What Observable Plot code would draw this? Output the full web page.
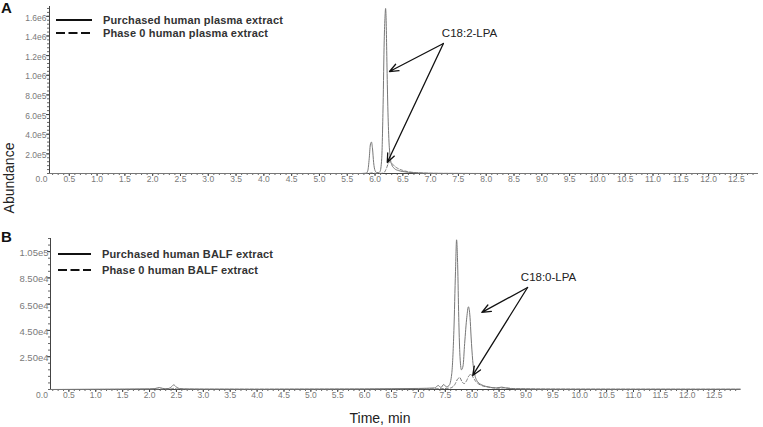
<!DOCTYPE html>
<html><head><meta charset="utf-8">
<script src="https://cdn.jsdelivr.net/npm/d3@7"></script>
<script src="https://cdn.jsdelivr.net/npm/@observablehq/plot@0.6"></script>
<style>
body{margin:0;background:#fff;font-family:"Liberation Sans",Arial,sans-serif;}
#wrap{position:relative;width:763px;height:427px;overflow:hidden;background:#fff;}
.abs{position:absolute;white-space:nowrap;}
.plot{position:absolute;left:0;}
.leg{position:absolute;font-size:11px;font-weight:bold;color:#333;display:flex;align-items:center;white-space:nowrap;letter-spacing:0.15px;}
.leg svg{margin-right:11px;}
</style></head><body><div id="wrap"></div>
<script>
// ---------- DATA ----------
// x tick labels (retention time, min)
const xTicks = [0,0.5,1,1.5,2,2.5,3,3.5,4,4.5,5,5.5,6,6.5,7,7.5,8,8.5,9,9.5,10,10.5,11,11.5,12,12.5];
const xTickLabels = ["0.0","0.5","1.0","1.5","2.0","2.5","3.0","3.5","4.0","4.5","5.0","5.5","6.0","6.5","7.0","7.5","8.0","8.5","9.0","9.5","10.0","10.5","11.0","11.5","12.0","12.5"];
// panel A y ticks
const yTicksA = [200000,400000,600000,800000,1000000,1200000,1400000,1600000];
const yTickLabelsA = ["2.0e5","4.0e5","6.0e5","8.0e5","1.0e6","1.2e6","1.4e6","1.6e6"];
// panel B y ticks
const yTicksB = [25000,45000,65000,85000,105000];
const yTickLabelsB = ["2.50e4","4.50e4","6.50e4","8.50e4","1.05e5"];

// Panel A: purchased human plasma extract (solid)
const tA_purch = [0.144,3.0,5.75,5.84,5.87,5.895,5.915,5.935,5.955,5.975,6.0,6.03,6.06,6.09,6.12,6.145,6.165,6.18,6.19,6.2,6.21,6.225,6.245,6.27,6.3,6.35,6.42,6.5,6.6,6.75,6.95,7.2,8.0,12.88];
const vA_purch = [0,0,0,3000,30000,150000,290000,320000,250000,110000,30000,10000,8000,20000,150000,700000,1350000,1600000,1680000,1560000,1250000,800000,400000,180000,90000,50000,30000,20000,12000,6000,2500,1000,0,0];
// Panel A: phase 0 human plasma extract (dashed)
const tA_phase0 = [0.144,5.8,5.9,5.94,5.98,6.1,6.17,6.21,6.24,6.27,6.3,6.34,6.4,6.48,6.58,6.7,6.85,7.0,7.2,8.0,12.88];
const vA_phase0 = [0,0,2000,6000,2000,1000,15000,60000,105000,120000,105000,80000,55000,35000,20000,10000,4500,2000,800,0,0];

// Panel B: purchased human BALF extract (solid)
const tB_purch = [0.158,1.0,1.5,2.0,2.1,2.18,2.24,2.3,2.36,2.41,2.45,2.5,2.56,2.7,3.0,4.0,5.0,6.0,6.5,7.0,7.3,7.37,7.42,7.47,7.52,7.57,7.62,7.66,7.69,7.71,7.73,7.75,7.77,7.8,7.83,7.86,7.9,7.93,7.96,7.98,8.01,8.05,8.1,8.18,8.3,8.45,8.55,8.65,8.8,9.2,10.0,11.0,12.0,12.99];
const vB_purch = [0,200,300,500,700,1500,900,600,800,2200,3500,1800,700,400,300,200,300,400,600,800,1200,3000,1500,3800,2000,3000,12000,45000,90000,114000,95000,55000,28000,15000,18000,35000,55000,63000,55000,40000,22000,11000,6000,3500,2000,1200,1800,900,500,300,200,200,200,200];
// Panel B: phase 0 human BALF extract (dashed)
const tB_phase0 = [0.158,2.0,2.4,2.45,2.5,3.0,6.5,7.4,7.6,7.68,7.73,7.77,7.81,7.85,7.9,7.94,7.98,8.02,8.07,8.15,8.3,8.5,8.6,8.8,9.5,12.99];
const vB_phase0 = [0,200,400,900,400,200,300,600,1200,4000,8000,9000,6000,4500,7000,10500,11500,9000,6000,3500,1800,1000,1300,600,300,200];

// Annotations (data coordinates)
const annA_text = "C18:2-LPA";
const annA_textPos = [7.70, 1425000];
const annA_from = [7.23, 1323000];
const annA_toT = [6.26, 6.22];
const annA_toV = [1038000, 112000];
const annB_text = "C18:0-LPA";
const annB_textPos = [9.42, 85300];
const annB_from = [9.03, 77700];
const annB_toT = [8.18, 8.01];
const annB_toV = [58700, 10700];

// legend texts
const legendA = ["Purchased human plasma extract","Phase 0 human plasma extract"];
const legendB = ["Purchased human BALF extract","Phase 0 human BALF extract"];

// axis extents
const xDomainA = [0.144, 12.88];
const xDomainB = [0.158, 12.99];
const yDomainA = [0, 1700000];
const yDomainB = [0, 115000];

// ---------- BUILD ----------
const zip = (t, v) => t.map((d, i) => ({t: d, v: v[i]}));
const range = (a, b, s) => { const r = []; for (let k = 0; a + k * s <= b + 1e-9; k++) r.push(+(a + k * s).toFixed(4)); return r; };

function panel({xDomain, yDomain, height, mt, mb, ml, mr, purch, phase0, yTicks, yLabels, yMinorStep, ann, yLabelAria}) {
  const x0 = xDomain[0];
  const xMinor = range(0.1, xDomain[1], 0.1).filter(d => d >= x0);
  const xMajor = xTicks.filter(d => d >= x0);
  const yMinor = range(0, yDomain[1], yMinorStep);
  const arrows = ann.toT.map((t, i) => ({x1: ann.from[0], y1: ann.from[1], x2: t, y2: ann.toV[i]}));
  const isB = yLabelAria === "ytb";
  return Plot.plot({
    width: 763, height, marginTop: mt, marginBottom: mb, marginLeft: ml, marginRight: mr,
    style: {fontFamily: "Liberation Sans, Arial, sans-serif", background: "white"},
    x: {domain: xDomain, axis: null},
    y: {domain: yDomain, axis: null},
    marks: [
      Plot.axisX({ticks: xMinor, tickSize: 2, tickFormat: () => "", stroke: "#666", label: null}),
      Plot.axisX({ticks: xMajor, tickSize: 3, tickFormat: () => "", stroke: "#444", label: null}),
      Plot.axisY({ticks: yMinor, tickSize: 2, tickFormat: () => "", stroke: "#666", label: null}),
      Plot.axisY({ticks: yTicks, tickSize: 3, tickFormat: () => "", stroke: "#444", label: null}),
      Plot.ruleY([0], {stroke: "#444", strokeWidth: 1}),
      Plot.ruleX([x0], {stroke: "#444", strokeWidth: 1}),
      Plot.text(xTicks, {x: d => d, y: () => 0, text: (d, i) => xTickLabels[i], dy: 2, lineAnchor: "top", fontSize: 8.5, fill: "#7a7a7a"}),
      Plot.text(yTicks, {x: () => x0, y: d => d, text: (d, i) => yLabels[i], dx: isB ? -2 : -3, dy: 1.5, textAnchor: "end", fontSize: isB ? 9.5 : 8.5, fill: "#7a7a7a", ariaLabel: yLabelAria}),
      Plot.line(zip(phase0.t, phase0.v), {x: "t", y: "v", stroke: "#777", strokeWidth: 1, strokeDasharray: "3,2", curve: "monotone-x"}),
      Plot.line(zip(purch.t, purch.v), {x: "t", y: "v", stroke: "#777", strokeWidth: 1, curve: "monotone-x"}),
      Plot.arrow(arrows, {x1: "x1", y1: "y1", x2: "x2", y2: "y2", stroke: "#111", strokeWidth: 1.3, headLength: 11, headAngle: 45, insetStart: 0, insetEnd: 0}),
      Plot.text([ann.text], {x: () => ann.textPos[0], y: () => ann.textPos[1], text: d => d, fontSize: 11.5, fill: "#222"})
    ]
  });
}

const wrap = document.getElementById("wrap");

const svgA = panel({
  xDomain: xDomainA, yDomain: yDomainA, height: 200, mt: 6, mb: 27, ml: 49, mr: 6,
  purch: {t: tA_purch, v: vA_purch}, phase0: {t: tA_phase0, v: vA_phase0},
  yTicks: yTicksA, yLabels: yTickLabelsA, yMinorStep: 40000,
  ann: {text: annA_text, textPos: annA_textPos, from: annA_from, toT: annA_toT, toV: annA_toV},
  yLabelAria: "yta"
});
svgA.classList.add("plot"); svgA.style.top = "0px";
wrap.appendChild(svgA);

const svgB = panel({
  xDomain: xDomainB, yDomain: yDomainB, height: 197, mt: 8, mb: 38, ml: 50, mr: 23,
  purch: {t: tB_purch, v: vB_purch}, phase0: {t: tB_phase0, v: vB_phase0},
  yTicks: yTicksB, yLabels: yTickLabelsB, yMinorStep: 5000,
  ann: {text: annB_text, textPos: annB_textPos, from: annB_from, toT: annB_toT, toV: annB_toV},
  yLabelAria: "ytb"
});
svgB.classList.add("plot"); svgB.style.top = "230px";
wrap.appendChild(svgB);
d3.select(svgB).selectAll('g[aria-label="ytb"] text').attr("letter-spacing", "1.8px");

// panel letters, axis titles
function addText(txt, css) {
  const d = document.createElement("div");
  d.className = "abs"; d.textContent = txt; Object.assign(d.style, css); wrap.appendChild(d);
  return d;
}
addText("A", {left: "1px", top: "-1px", fontSize: "15px", fontWeight: "bold", color: "#111"});
addText("B", {left: "1px", top: "228px", fontSize: "15px", fontWeight: "bold", color: "#111"});
addText("Abundance", {left: "9px", top: "178px", fontSize: "14px", color: "#222", transform: "translate(-50%,-50%) rotate(-90deg)"});
addText("Time, min", {left: "380px", top: "418px", fontSize: "14px", color: "#222", transform: "translate(-50%,-50%)"});

// legends
function legendRow(txt, dashed, left, top, lineW) {
  const row = document.createElement("div");
  row.className = "leg"; row.style.left = left + "px"; row.style.top = top + "px";
  row.style.transform = "translateY(-50%)";
  row.innerHTML = `<svg width="${lineW}" height="4"><line x1="0" y1="2" x2="${lineW}" y2="2" stroke="#111" stroke-width="2" ${dashed ? 'stroke-dasharray="9,3.5"' : ''}/></svg><span>${txt}</span>`;
  wrap.appendChild(row);
}
legendRow(legendA[0], false, 56, 20, 36);
legendRow(legendA[1], true, 56, 33, 36);
legendRow(legendB[0], false, 58, 254, 33);
legendRow(legendB[1], true, 58, 270, 33);
</script></body></html>
